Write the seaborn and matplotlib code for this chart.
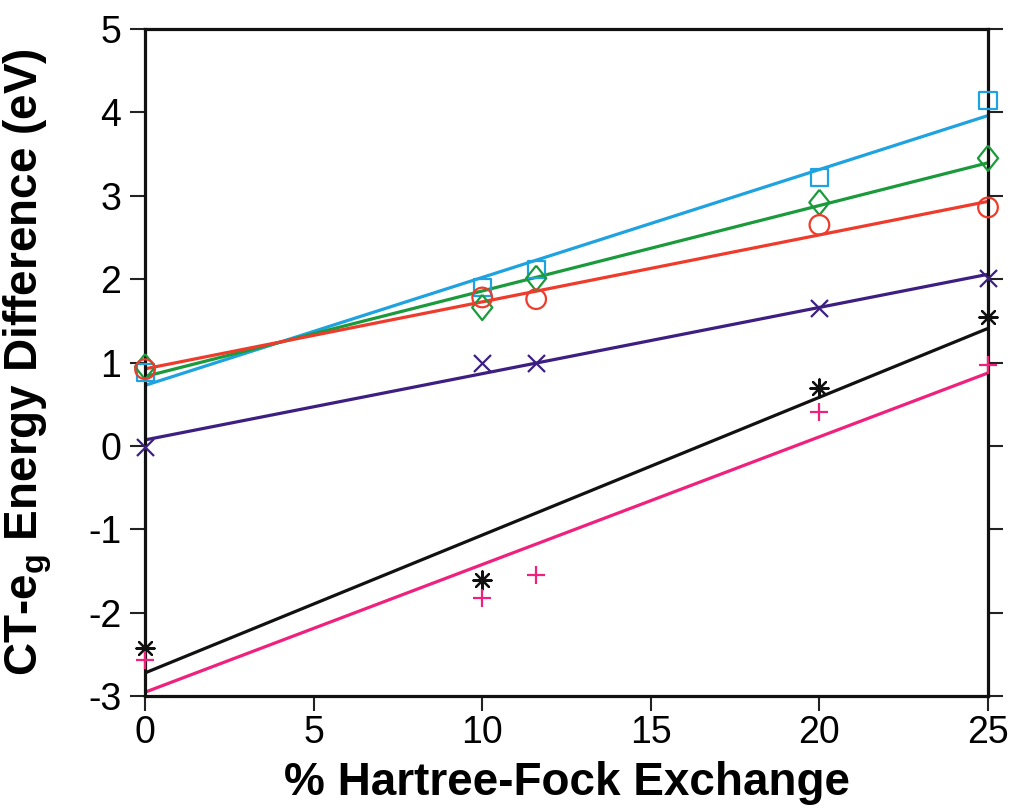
import numpy as np
import pandas as pd
import matplotlib
matplotlib.use("Agg")
import matplotlib.pyplot as plt
import seaborn as sns

# % Hartree-Fock exchange used in each functional
hf_five = [0, 10, 11.6, 20, 25]
hf_four = [0, 10, 20, 25]

# CT - e_g energy differences (eV) for each complex
sq_blue = [0.88, 1.90, 2.11, 3.22, 4.14]
dia_green = [0.95, 1.66, 2.01, 2.92, 3.45]
circ_red = [0.92, 1.78, 1.76, 2.65, 2.86]
x_purple = [-0.01, 1.00, 1.00, 1.65, 2.01]
star_black = [-2.42, -1.61, 0.69, 1.54]
plus_pink = [-2.57, -1.83, -1.55, 0.41, 0.97]

# tall open diamond
diamond = [(0, 1), (0.8, 0), (0, -1), (-0.8, 0), (0, 1)]
asterisk = (8, 2, 0)

series = [
    (hf_five, sq_blue, "#1ea2e0", "s", 150),
    (hf_five, dia_green, "#1b9a3c", diamond, 330),
    (hf_five, circ_red, "#ee3b2b", "o", 200),
    (hf_five, x_purple, "#3d1f82", "x", 150),
    (hf_four, star_black, "#111111", asterisk, 170),
    (hf_five, plus_pink, "#f0217c", "+", 180),
]

sns.set_theme(style="ticks")
plt.rcParams["font.family"] = ["Liberation Sans", "DejaVu Sans"]
plt.rcParams["mathtext.fontset"] = "custom"
plt.rcParams["mathtext.rm"] = "Liberation Sans:bold"
plt.rcParams["mathtext.it"] = "Liberation Sans:bold"
plt.rcParams["mathtext.bf"] = "Liberation Sans:bold"
plt.rcParams["mathtext.default"] = "rm"
plt.rcParams["axes.unicode_minus"] = False

fig = plt.figure(figsize=(10.15, 8.10), dpi=100)
ax = fig.add_axes([0.1429, 0.1407, 0.8305, 0.8235])

for xs, ys, color, marker, size in series:
    df = pd.DataFrame({"hf": xs, "de": ys})
    scatter_kws = dict(s=size, alpha=1, linewidths=1.6, zorder=3, clip_on=False)
    if marker not in ("x", "+", asterisk):
        scatter_kws["facecolors"] = "none"
    sns.regplot(data=df, x="hf", y="de", ax=ax, ci=None, color=color,
                marker=marker, truncate=True,
                scatter_kws=scatter_kws,
                line_kws=dict(lw=2.3, zorder=2))

ax.set_xlim(0, 25)
ax.set_ylim(-3, 5)
ax.set_xticks([0, 5, 10, 15, 20, 25])
ax.set_yticks(range(-3, 6))
ax.set_xlabel("% Hartree-Fock Exchange", fontsize=33, fontweight="bold", color="black")
ax.set_ylabel(r"CT-e$_{g}$ Energy Difference (eV)", fontsize=33, fontweight="bold", color="black")
ax.xaxis.set_label_coords(0.501, -0.097)
ax.yaxis.set_label_coords(-0.108, 0.5)

for side in ["left", "right", "top", "bottom"]:
    ax.spines[side].set_visible(True)
    ax.spines[side].set_linewidth(2.3)
    ax.spines[side].set_color("#111111")

ax.tick_params(axis="both", which="major", direction="out", length=11,
               width=1.5, labelsize=27, color="#222222", labelcolor="black")
ax.tick_params(axis="x", pad=3, top=False)
ax.tick_params(axis="y", pad=6, right=True, labelright=False)
ax.set_facecolor("white")
ax.grid(False)

fig.savefig("out.png", dpi=100)
